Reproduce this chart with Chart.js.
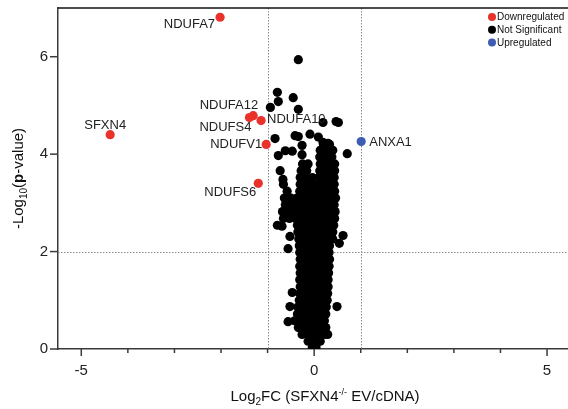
<!DOCTYPE html>
<html>
<head>
<meta charset="utf-8">
<script src="https://cdn.jsdelivr.net/npm/chart.js@4.4.1/dist/chart.umd.min.js"></script>
<style>
  body { margin: 0; background: #fff; }
  canvas { display: block; }
</style>
</head>
<body>
<canvas id="chart" width="568" height="409"></canvas>
<script>
// labelled genes
var downGenes = ['NDUFA7', 'SFXN4', 'NDUFA12', 'NDUFS4', 'NDUFA10', 'NDUFV1', 'NDUFS6'];
var downX = [-2.02, -4.38, -1.31, -1.39, -1.14, -1.03, -1.20];
var downY = [6.81, 4.40, 4.79, 4.75, 4.69, 4.20, 3.40];

var upGenes = ['ANXA1'];
var upX = [1.01];
var upY = [4.26];

// not significant: the dense body, read row by row (y, then the x values on that row)
var blobRowY = [0.04, 0.16, 0.30, 0.44, 0.58, 0.72, 0.86, 1.00, 1.14, 1.28, 1.42, 1.56, 1.70, 1.84, 1.98,
  2.12, 2.26, 2.40, 2.54, 2.68, 2.82, 2.96, 3.10, 3.24, 3.38, 3.52, 3.66, 3.80, 3.94, 4.08, 4.20];
var blobRowX = [
  [-0.04, 0.04],
  [-0.13, 0, 0.13],
  [-0.26, -0.13, 0, 0.13, 0.22],
  [-0.34, -0.21, -0.08, 0.05, 0.18, 0.25],
  [-0.42, -0.29, -0.16, -0.03, 0.1, 0.22],
  [-0.36, -0.23, -0.1, 0.03, 0.16, 0.25],
  [-0.35, -0.22, -0.09, 0.04, 0.17, 0.26],
  [-0.32, -0.19, -0.06, 0.07, 0.2, 0.28],
  [-0.31, -0.18, -0.05, 0.08, 0.21, 0.29],
  [-0.3, -0.17, -0.04, 0.09, 0.22, 0.3],
  [-0.31, -0.18, -0.05, 0.08, 0.21, 0.3],
  [-0.3, -0.17, -0.04, 0.09, 0.22, 0.31],
  [-0.31, -0.18, -0.05, 0.08, 0.21, 0.32],
  [-0.3, -0.17, -0.04, 0.09, 0.22, 0.33],
  [-0.31, -0.18, -0.05, 0.08, 0.21, 0.32],
  [-0.32, -0.19, -0.06, 0.07, 0.2, 0.33],
  [-0.33, -0.2, -0.07, 0.06, 0.19, 0.32, 0.4],
  [-0.35, -0.22, -0.09, 0.04, 0.17, 0.3, 0.4],
  [-0.36, -0.23, -0.1, 0.03, 0.16, 0.29, 0.42],
  [-0.66, -0.53, -0.4, -0.27, -0.14, -0.01, 0.12, 0.25, 0.38, 0.44],
  [-0.68, -0.55, -0.42, -0.29, -0.16, -0.03, 0.1, 0.23, 0.36, 0.45],
  [-0.62, -0.48, -0.35, -0.22, -0.09, 0.04, 0.17, 0.3, 0.43],
  [-0.64, -0.5, -0.37, -0.24, -0.11, 0.02, 0.15, 0.28, 0.41, 0.46],
  [-0.58, -0.31, -0.18, -0.05, 0.08, 0.21, 0.34, 0.44],
  [-0.66, -0.3, -0.17, -0.04, 0.09, 0.22, 0.35, 0.43],
  [-0.3, -0.17, -0.04, 0.1, 0.23, 0.36, 0.43],
  [-0.73, -0.28, -0.16, 0.12, 0.25, 0.38, 0.44],
  [-0.25, -0.13, 0.13, 0.26, 0.39, 0.44],
  [0.12, 0.25, 0.38],
  [0.13, 0.26, 0.4],
  [0.2, 0.33]
];

// not significant: scattered points around the body
var nsX = [-0.34, -0.79, -0.77, -0.45, -0.94, -0.34, 0.19, 0.47, 0.52, -0.84, -0.41, -0.34, -0.09, 0.09,
  0.19, 0.3, -0.26, -0.62, -0.47, -0.77, -0.26, 0.71, -0.67, 0.62, 0.54, -0.56, -0.52, -0.79, -0.69,
  0.49, -0.52, -0.47, -0.56, 0.29];
var nsY = [5.94, 5.27, 5.08, 5.16, 4.96, 4.92, 4.65, 4.67, 4.65, 4.32, 4.38, 4.36, 4.41, 4.35,
  4.24, 4.22, 4.18, 4.07, 4.06, 3.97, 3.99, 4.01, 3.48, 2.33, 2.17, 2.06, 2.31, 2.54, 2.52,
  0.87, 0.87, 1.16, 0.56, 0.3];

var xLabels = [-5, 0, 5];
var yTicks = [0, 2, 4, 6];
var cutX = [-1, 1];
var cutY = [2];

var FONT = "'Liberation Sans', Arial, sans-serif";
var RED = '#e8322a', BLACK = '#000000', BLUE = '#3d5cb3';

var downPts = [], upPts = [], nsPts = [];
for (var i = 0; i < downX.length; i++) downPts.push({x: downX[i], y: downY[i], name: downGenes[i]});
for (var i = 0; i < upX.length; i++) upPts.push({x: upX[i], y: upY[i], name: upGenes[i]});
for (var r = 0; r < blobRowY.length; r++) {
  for (var k = 0; k < blobRowX[r].length; k++) nsPts.push({x: blobRowX[r][k], y: blobRowY[r]});
}
for (var i = 0; i < nsX.length; i++) nsPts.push({x: nsX[i], y: nsY[i]});

// where each gene name sits next to its dot
var labelPos = {
  NDUFA7: ['right', -5, 7],
  SFXN4: ['center', -5, -9],
  NDUFA12: ['right', 5, -10.5],
  NDUFS4: ['right', 2, 10],
  NDUFA10: ['left', 6, -1.5],
  NDUFV1: ['right', -4, 0],
  NDUFS6: ['right', -2, 9],
  ANXA1: ['left', 8, 1]
};

function richText(ctx, parts, x, y, center) {
  var w = 0;
  parts.forEach(function(p) { ctx.font = p[1]; w += ctx.measureText(p[0]).width; });
  var cx = center ? x - w / 2 : x;
  ctx.textBaseline = 'alphabetic';
  ctx.textAlign = 'left';
  parts.forEach(function(p) {
    ctx.font = p[1];
    ctx.fillText(p[0], cx, y + p[2]);
    cx += ctx.measureText(p[0]).width;
  });
}

var cutLines = {
  id: 'cutLines',
  beforeDatasetsDraw: function(chart) {
    var ctx = chart.ctx, a = chart.chartArea, xs = chart.scales.x, ys = chart.scales.y;
    ctx.save();
    ctx.strokeStyle = '#8a8a8a';
    ctx.lineWidth = 1;
    ctx.setLineDash([1.5, 1.5]);
    cutX.forEach(function(v) {
      var px = Math.round(xs.getPixelForValue(v)) + 0.5;
      ctx.beginPath(); ctx.moveTo(px, a.top); ctx.lineTo(px, a.bottom); ctx.stroke();
    });
    cutY.forEach(function(v) {
      var py = Math.round(ys.getPixelForValue(v)) + 0.5;
      ctx.beginPath(); ctx.moveTo(a.left, py); ctx.lineTo(a.right, py); ctx.stroke();
    });
    ctx.restore();
  }
};

var extras = {
  id: 'extras',
  afterDraw: function(chart) {
    var ctx = chart.ctx, a = chart.chartArea, xs = chart.scales.x, ys = chart.scales.y;
    ctx.save();
    // top frame line
    ctx.strokeStyle = '#111';
    ctx.lineWidth = 1.5;
    ctx.beginPath(); ctx.moveTo(a.left, a.top); ctx.lineTo(a.right, a.top); ctx.stroke();

    // tick marks
    ctx.strokeStyle = '#3a3a3a';
    ctx.lineWidth = 1.5;
    xs.ticks.forEach(function(t) {
      var px = xs.getPixelForValue(t.value);
      var len = xLabels.indexOf(t.value) >= 0 ? 7 : 4;
      ctx.beginPath(); ctx.moveTo(px, a.bottom); ctx.lineTo(px, a.bottom + len); ctx.stroke();
    });
    ys.ticks.forEach(function(t) {
      var py = ys.getPixelForValue(t.value);
      ctx.beginPath(); ctx.moveTo(a.left, py); ctx.lineTo(a.left - 8, py); ctx.stroke();
    });

    // gene labels
    ctx.fillStyle = '#222';
    ctx.font = '13px ' + FONT;
    ctx.textBaseline = 'middle';
    [0, 2].forEach(function(di) {
      var meta = chart.getDatasetMeta(di);
      meta.data.forEach(function(el, j) {
        var name = chart.data.datasets[di].data[j].name;
        var lp = labelPos[name];
        ctx.textAlign = lp[0];
        ctx.fillText(name, el.x + lp[1], el.y + lp[2]);
      });
    });

    // axis titles
    ctx.fillStyle = '#111';
    richText(ctx, [
      ['Log', '15px ' + FONT, 0],
      ['2', '10px ' + FONT, 4],
      ['FC (SFXN4', '15px ' + FONT, 0],
      ['-/-', '9px ' + FONT, -6],
      [' EV/cDNA)', '15px ' + FONT, 0]
    ], (a.left + a.right) / 2 + 12, 401, true);

    ctx.save();
    ctx.translate(23, (a.top + a.bottom) / 2);
    ctx.rotate(-Math.PI / 2);
    richText(ctx, [
      ['-Log', '15px ' + FONT, 0],
      ['10', '10px ' + FONT, 4],
      ['(', '15px ' + FONT, 0],
      ['p', 'bold 15px ' + FONT, 0],
      ['-value)', '15px ' + FONT, 0]
    ], 0, 0, true);
    ctx.restore();

    // legend
    ctx.font = '10px ' + FONT;
    ctx.textAlign = 'left';
    ctx.textBaseline = 'middle';
    chart.data.datasets.forEach(function(ds, i) {
      var ly = 17 + i * 12.8;
      ctx.fillStyle = ds.backgroundColor;
      ctx.beginPath(); ctx.arc(492, ly, 4, 0, Math.PI * 2); ctx.fill();
      ctx.fillStyle = '#111';
      ctx.fillText(ds.label, 497, ly + 0.5);
    });
    ctx.restore();
  }
};

new Chart(document.getElementById('chart').getContext('2d'), {
  type: 'scatter',
  data: {
    datasets: [
      {label: 'Downregulated', data: downPts, backgroundColor: RED, borderWidth: 0, pointRadius: 4.6},
      {label: 'Not Significant', data: nsPts, backgroundColor: BLACK, borderWidth: 0, pointRadius: 4.6},
      {label: 'Upregulated', data: upPts, backgroundColor: BLUE, borderWidth: 0, pointRadius: 4.6}
    ]
  },
  options: {
    responsive: false,
    animation: false,
    devicePixelRatio: 1,
    layout: {autoPadding: false, padding: {top: 8, right: 0, left: 0, bottom: 0}},
    plugins: {legend: {display: false}, tooltip: {enabled: false}},
    scales: {
      x: {
        type: 'linear', min: -5.5, max: 5.45,
        ticks: {
          stepSize: 1, includeBounds: false, autoSkip: false, maxRotation: 0, padding: 6,
          color: '#222', font: {family: FONT, size: 15},
          callback: function(v) { return xLabels.indexOf(v) >= 0 ? String(v) : ''; }
        },
        grid: {display: true, drawOnChartArea: false, drawTicks: true, tickLength: 7, tickColor: 'rgba(0,0,0,0)'},
        border: {display: true, color: '#3a3a3a', width: 1.5},
        afterFit: function(s) { s.height = 60; s.paddingLeft = 0; s.paddingRight = 0; }
      },
      y: {
        type: 'linear', min: 0, max: 7,
        ticks: {
          stepSize: 2, includeBounds: false, padding: 2,
          color: '#222', font: {family: FONT, size: 15},
          callback: function(v) { return yTicks.indexOf(v) >= 0 ? String(v) : ''; }
        },
        grid: {display: true, drawOnChartArea: false, drawTicks: true, tickLength: 8, tickColor: 'rgba(0,0,0,0)'},
        border: {display: true, color: '#3a3a3a', width: 1.5},
        afterFit: function(s) { s.width = 58; s.paddingTop = 0; s.paddingBottom = 0; }
      }
    }
  },
  plugins: [cutLines, extras]
});
</script>
</body>
</html>
